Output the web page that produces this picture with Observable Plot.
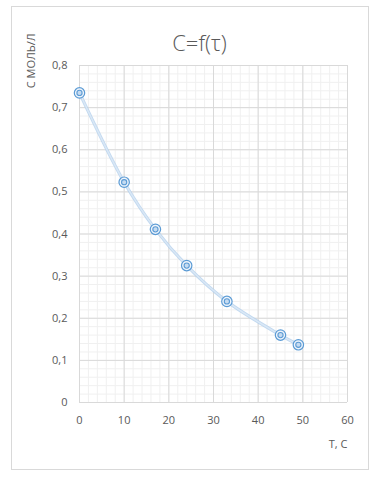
<!DOCTYPE html>
<html><head><meta charset="utf-8">
<script src="https://cdn.jsdelivr.net/npm/d3@7"></script>
<script src="https://cdn.jsdelivr.net/npm/@observablehq/plot@0.6"></script>
<style>
html,body{margin:0;padding:0;background:#fff;}
#wrap{position:relative;width:381px;height:478px;}
#box{position:absolute;left:11px;top:6px;width:356px;height:462px;border:1px solid #d9d9d9;}
#wrap svg{position:absolute;left:0;top:0;}
</style>
</head><body>
<div id="wrap"><div id="box"></div></div>
<script>
const tau = [0, 10, 17, 24, 33, 45, 49];
const conc = [0.735, 0.523, 0.411, 0.325, 0.240, 0.160, 0.137];
const xTicks = [0, 10, 20, 30, 40, 50, 60];
const yTicks = [0, 0.1, 0.2, 0.3, 0.4, 0.5, 0.6, 0.7, 0.8];
const title = "C=f(τ)";
const yLabel = "С МОЛЬ/Л";
const xLabel = "Т, С";

const data = tau.map((t, i) => ({t, c: conc[i]}));
const xMinor = d3.range(0, 60.001, 2);
const yMinor = d3.range(0, 0.8001, 0.02);
const fmt = d => d === 0 ? "0" : d.toFixed(1).replace(".", ",");
const font = "'Open Sans', 'Noto Sans', sans-serif";

const chart = Plot.plot({
  width: 381, height: 478,
  marginLeft: 79, marginRight: 34, marginTop: 65, marginBottom: 76,
  style: {fontFamily: font, fontSize: "11px", color: "#595959", background: "transparent"},
  x: {domain: [0, 60], ticks: xTicks, tickSize: 0, tickPadding: 14, label: null, tickFormat: d => String(d)},
  y: {domain: [0, 0.8], ticks: yTicks, tickSize: 0, tickPadding: 12, label: null, tickFormat: fmt},
  marks: [
    Plot.ruleX(xMinor, {stroke: "#f0f0f0", strokeWidth: 1}),
    Plot.ruleY(yMinor, {stroke: "#f0f0f0", strokeWidth: 1}),
    Plot.ruleX(xTicks, {stroke: "#d9d9d9", strokeWidth: 1}),
    Plot.ruleY(yTicks, {stroke: "#d9d9d9", strokeWidth: 1}),
    Plot.line(data, {x: "t", y: "c", curve: "catmull-rom", stroke: "#b3cfec", strokeWidth: 3.2, strokeOpacity: 0.8}),
    Plot.line(data, {x: "t", y: "c", curve: "catmull-rom", stroke: "#dae8f6", strokeWidth: 1.4}),
    Plot.dot(data, {x: "t", y: "c", r: 5.2, stroke: "#5b9bd5", strokeWidth: 1.2, fill: "#eef4fb"}),
    Plot.dot(data, {x: "t", y: "c", r: 2.6, stroke: "#5b9bd5", strokeWidth: 1.1, fill: "#c5dbf1"}),
    Plot.text([title], {frameAnchor: "top", dy: -30, dx: -14, fontSize: 22, fontWeight: 300, fill: "#595959"}),
    Plot.text([xLabel], {frameAnchor: "bottom-right", dy: 45, dx: 0, textAnchor: "end", fontSize: 11, fill: "#595959"}),
    Plot.text([yLabel], {frameAnchor: "top-left", dx: -52, dy: -32, rotate: -90, textAnchor: "end", fontSize: 11, fill: "#595959"})
  ]
});
document.getElementById("wrap").appendChild(chart);
</script>
</body></html>
